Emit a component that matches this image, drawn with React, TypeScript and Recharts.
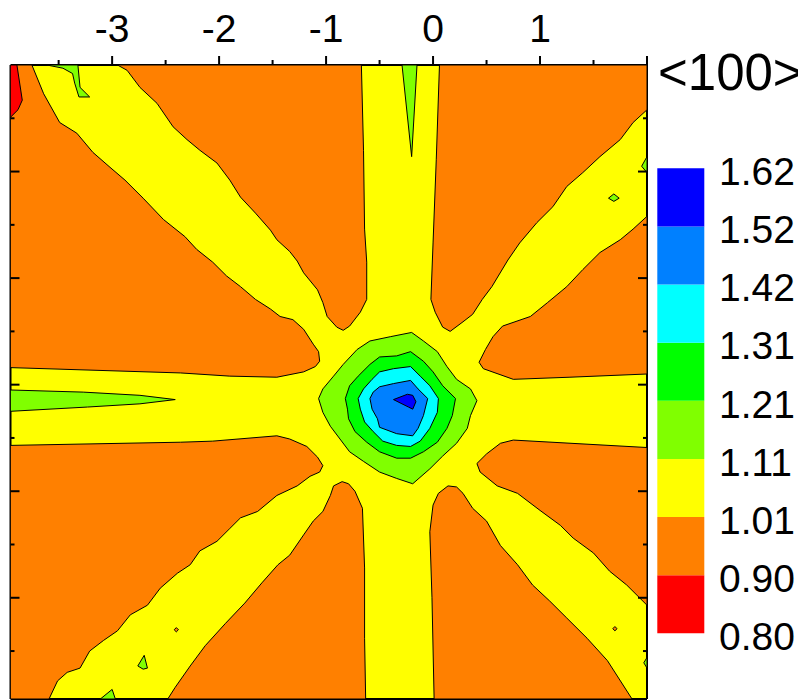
import { Bar, BarChart, CartesianGrid, Customized, Scatter, ScatterChart, XAxis, YAxis } from "recharts";

type Pt = [number, number];

// contour levels (bottom to top) and band colours
const levelLabels = ["0.80", "0.90", "1.01", "1.11", "1.21", "1.31", "1.42", "1.52", "1.62"];
const bandColors = ["#FF0000", "#FF8000", "#FFFF00", "#80FF00", "#00FF00", "#00FFFF", "#0080FF", "#0000FF"];
const colorbarTitle = "<100>";

const xTicks = [-3.5, -3, -2.5, -2, -1.5, -1, -0.5, 0, 0.5, 1, 1.5, 2];
const xLabelled = [-3, -2, -1, 0, 1];
const yTicks = [-3.5, -3, -2.5, -2, -1.5, -1, -0.5, 0, 0.5, 1, 1.5];
const domain: [number, number] = [-3.95, 2.0];

// orange (0.90-1.01) regions between the yellow arms
const orangeNW: Pt[] = [
  [-3.95, 2.0], [-3.75, 2.0], [-3.64, 1.73], [-3.49, 1.46], [-3.33, 1.36], [-3.18, 1.18], [-3.02, 1.04],
  [-2.88, 0.92], [-2.71, 0.75], [-2.52, 0.55], [-2.32, 0.39], [-2.21, 0.27], [-2.06, 0.15], [-1.93, 0.02],
  [-1.8, -0.08], [-1.66, -0.2], [-1.52, -0.29], [-1.43, -0.36], [-1.31, -0.39], [-1.21, -0.48], [-1.12, -0.62],
  [-1.07, -0.69], [-1.06, -0.78], [-1.1, -0.83], [-1.21, -0.88], [-1.46, -0.93], [-1.9, -0.92], [-2.36, -0.89],
  [-3.95, -0.84],
];
const orangeNNW: Pt[] = [
  [-2.95, 2.0], [-2.86, 1.95], [-2.74, 1.79], [-2.58, 1.64], [-2.43, 1.42], [-2.3, 1.3], [-2.18, 1.2],
  [-2.02, 1.08], [-1.9, 0.92], [-1.8, 0.76], [-1.66, 0.61], [-1.52, 0.45], [-1.46, 0.36], [-1.34, 0.25],
  [-1.27, 0.16], [-1.21, 0.05], [-1.08, -0.11], [-1.03, -0.23], [-0.99, -0.36], [-0.9, -0.46], [-0.84, -0.49],
  [-0.78, -0.45], [-0.68, -0.32], [-0.62, -0.2], [-0.62, 0.15], [-0.64, 0.46], [-0.65, 1.2], [-0.67, 2.0],
];
const orangeNNE: Pt[] = [
  [0.06, 2.0], [0.03, 1.11], [0.0, 0.33], [-0.02, -0.2], [0.02, -0.32], [0.09, -0.46], [0.16, -0.5],
  [0.28, -0.41], [0.37, -0.34], [0.46, -0.2], [0.55, -0.08], [0.7, 0.17], [0.81, 0.33], [0.97, 0.52],
  [1.12, 0.67], [1.25, 0.86], [1.4, 0.99], [1.56, 1.14], [1.75, 1.3], [1.87, 1.46], [2.0, 1.58], [2.0, 2.0],
];
const orangeENE: Pt[] = [
  [2.0, 0.58], [1.87, 0.46], [1.75, 0.36], [1.56, 0.24], [1.4, 0.08], [1.25, -0.08], [1.07, -0.23],
  [0.91, -0.36], [0.65, -0.45], [0.56, -0.55], [0.49, -0.67], [0.43, -0.79], [0.47, -0.85], [0.75, -0.95],
  [1.28, -0.93], [2.0, -0.9],
];
const orangeESE: Pt[] = [
  [2.0, -1.59], [0.75, -1.52], [0.63, -1.55], [0.5, -1.65], [0.41, -1.74], [0.44, -1.82], [0.6, -1.95],
  [0.79, -2.02], [1.0, -2.18], [1.19, -2.32], [1.31, -2.44], [1.5, -2.58], [1.65, -2.75], [1.81, -2.88],
  [2.0, -3.07],
];
const orangeSSE: Pt[] = [
  [1.86, -3.95], [1.63, -3.59], [1.44, -3.38], [1.25, -3.19], [1.09, -3.03], [0.93, -2.88], [0.79, -2.69],
  [0.63, -2.51], [0.5, -2.28], [0.37, -2.16], [0.28, -2.02], [0.22, -1.96], [0.14, -1.95], [0.05, -2.02],
  [0.0, -2.13], [-0.03, -2.38], [-0.01, -3.0], [0.01, -3.95],
];
const orangeSSW: Pt[] = [
  [-0.63, -3.95], [-0.64, -3.38], [-0.64, -2.72], [-0.66, -2.16], [-0.73, -2.0], [-0.79, -1.93], [-0.85, -1.91],
  [-0.93, -1.95], [-0.96, -2.04], [-1.03, -2.19], [-1.12, -2.28], [-1.21, -2.41], [-1.34, -2.6], [-1.45, -2.69],
  [-1.6, -2.86], [-1.76, -3.05], [-1.94, -3.24], [-2.13, -3.45], [-2.27, -3.64], [-2.41, -3.84], [-2.48, -3.95],
];
const orangeSW: Pt[] = [
  [-3.95, -1.57], [-3.95, -3.95], [-3.59, -3.95], [-3.51, -3.78], [-3.42, -3.7], [-3.3, -3.66], [-3.21, -3.5],
  [-3.08, -3.4], [-2.95, -3.31], [-2.83, -3.16], [-2.67, -3.07], [-2.55, -2.91], [-2.39, -2.77], [-2.27, -2.69],
  [-2.18, -2.56], [-2.02, -2.47], [-1.9, -2.35], [-1.8, -2.25], [-1.64, -2.19], [-1.46, -2.04], [-1.27, -1.95],
  [-1.15, -1.86], [-1.06, -1.82], [-1.03, -1.76], [-1.08, -1.68], [-1.18, -1.58], [-1.34, -1.51], [-1.46, -1.48],
  [-2.06, -1.53], [-2.36, -1.54],
];
const orangeDotA: Pt[] = [[1.68, -3.29], [1.7, -3.27], [1.72, -3.29], [1.7, -3.31]];
const orangeDotB: Pt[] = [[-2.42, -3.3], [-2.4, -3.28], [-2.38, -3.3], [-2.4, -3.32]];

// red (0.80-0.90) corner
const redCorner: Pt[] = [[-3.95, 2.0], [-3.89, 2.0], [-3.84, 1.67], [-3.88, 1.58], [-3.95, 1.51]];

// light green (1.11-1.21) spikes and islands
const spikeWest: Pt[] = [[-3.95, -1.05], [-3.27, -1.07], [-2.74, -1.1], [-2.41, -1.14], [-2.74, -1.18], [-3.23, -1.21], [-3.95, -1.25]];
const spikeNorth: Pt[] = [[-0.29, 2.0], [-0.15, 2.0], [-0.2, 1.14]];
const spikeNW: Pt[] = [[-3.61, 2.0], [-3.46, 1.97], [-3.37, 1.92], [-3.35, 1.83], [-3.31, 1.7], [-3.21, 1.7], [-3.3, 1.79], [-3.32, 2.0]];
const islandNE: Pt[] = [[1.64, 0.75], [1.69, 0.79], [1.74, 0.75], [1.69, 0.72]];
const islandEdgeNE: Pt[] = [[2.0, 1.14], [1.95, 1.05], [2.0, 0.99]];
const islandEdgeSE: Pt[] = [[2.0, -3.56], [1.97, -3.61], [2.0, -3.66]];
const islandSW1: Pt[] = [[-2.76, -3.64], [-2.7, -3.54], [-2.67, -3.66], [-2.71, -3.67]];
const islandSW2: Pt[] = [[-3.11, -3.95], [-3.0, -3.86], [-2.97, -3.95]];

// central peak, outer to inner
const peak111: Pt[] = [
  [-1.07, -1.13], [-1.03, -1.04], [-0.93, -0.92], [-0.84, -0.81], [-0.71, -0.67], [-0.59, -0.59], [-0.4, -0.55],
  [-0.2, -0.51], [-0.09, -0.59], [0.04, -0.69], [0.13, -0.83], [0.22, -0.95], [0.35, -1.04], [0.41, -1.15],
  [0.35, -1.29], [0.32, -1.41], [0.22, -1.55], [0.09, -1.67], [-0.03, -1.79], [-0.19, -1.93], [-0.34, -1.88],
  [-0.5, -1.82], [-0.65, -1.72], [-0.78, -1.63], [-0.87, -1.51], [-0.96, -1.39], [-1.03, -1.26],
];
const peak121: Pt[] = [
  [-0.82, -1.13], [-0.78, -1.01], [-0.7, -0.92], [-0.59, -0.81], [-0.5, -0.74], [-0.34, -0.73], [-0.21, -0.69],
  [-0.09, -0.78], [0.0, -0.88], [0.09, -1.01], [0.21, -1.13], [0.18, -1.29], [0.13, -1.41], [0.04, -1.54],
  [-0.09, -1.63], [-0.21, -1.69], [-0.34, -1.69], [-0.5, -1.63], [-0.62, -1.54], [-0.73, -1.44], [-0.79, -1.32],
  [-0.8, -1.23],
];
const peak131: Pt[] = [
  [-0.7, -1.13], [-0.65, -1.04], [-0.57, -0.95], [-0.5, -0.88], [-0.37, -0.85], [-0.21, -0.83], [-0.12, -0.92],
  [-0.03, -1.01], [0.05, -1.13], [0.04, -1.26], [-0.03, -1.41], [-0.12, -1.53], [-0.21, -1.58], [-0.34, -1.57],
  [-0.47, -1.53], [-0.56, -1.44], [-0.64, -1.35], [-0.68, -1.23],
];
const peak142: Pt[] = [
  [-0.59, -1.13], [-0.56, -1.07], [-0.5, -1.02], [-0.37, -0.99], [-0.21, -0.96], [-0.14, -1.04], [-0.05, -1.13],
  [-0.09, -1.29], [-0.14, -1.41], [-0.19, -1.48], [-0.34, -1.46], [-0.5, -1.4], [-0.52, -1.32], [-0.57, -1.23],
];
const peak152: Pt[] = [[-0.37, -1.14], [-0.24, -1.09], [-0.19, -1.1], [-0.16, -1.16], [-0.19, -1.23], [-0.23, -1.21]];

// drawing order: [polygon, band index into bandColors]
const layers: [Pt[], number][] = [
  [orangeNW, 1], [orangeNNW, 1], [orangeNNE, 1], [orangeENE, 1], [orangeESE, 1], [orangeSSE, 1],
  [orangeSSW, 1], [orangeSW, 1], [orangeDotA, 1], [orangeDotB, 1], [redCorner, 0],
  [spikeWest, 3], [spikeNorth, 3], [spikeNW, 3], [islandNE, 3], [islandEdgeNE, 3], [islandEdgeSE, 3],
  [islandSW1, 3], [islandSW2, 3],
  [peak111, 3], [peak121, 4], [peak131, 5], [peak142, 6], [peak152, 7],
];

const FONT = "Arial, 'Liberation Sans', sans-serif";

const polygon = (color: string) => (props: any) => {
  const pts = props.points || [];
  const d = pts.map((p: any, i: number) => `${i ? "L" : "M"}${p.x},${p.y}`).join(" ") + " Z";
  return <path d={d} fill={color} stroke="#000" strokeWidth={1} strokeLinejoin="round" />;
};

const noDot = () => <g />;

const TopTick = ({ x, y, payload }: any) => {
  const v = payload.value;
  const major = Number.isInteger(v);
  return (
    <g>
      <line x1={x} x2={x} y1={y} y2={y - (major ? 9 : 5)} stroke="#000" strokeWidth={2} />
      {xLabelled.includes(v) && (
        <text x={x} y={y - 23} textAnchor="middle" fontSize={39} fontFamily={FONT} fill="#000">
          {v}
        </text>
      )}
    </g>
  );
};

const BottomTick = ({ x, y, payload }: any) => (
  <line x1={x} x2={x} y1={y} y2={y - (Number.isInteger(payload.value) ? 8 : 4)} stroke="#000" strokeWidth={2} />
);

const LeftTick = ({ x, y, payload }: any) => (
  <line x1={x} x2={x + (Number.isInteger(payload.value) ? 9 : 4)} y1={y} y2={y} stroke="#000" strokeWidth={2} />
);

const RightTick = ({ x, y, payload }: any) => (
  <line x1={x} x2={x - (Number.isInteger(payload.value) ? 9 : 4)} y1={y} y2={y} stroke="#000" strokeWidth={2} />
);

const colorbarRow = [
  bandColors.reduce((row: any, _c, i) => ({ ...row, [`b${i}`]: 1 }), { k: "c" }),
];

const LevelTick = ({ x, y, payload }: any) => (
  <text x={x + 15} y={y + 16.7} textAnchor="start" fontSize={39} fontFamily={FONT} fill="#000">
    {levelLabels[payload.value]}
  </text>
);

export default function App() {
  return (
    <div style={{ position: "relative", width: 798, height: 692, fontFamily: FONT }}>
      <div style={{ position: "absolute", left: 0, top: 0 }}>
        <ScatterChart width={642} height={692} margin={{ top: 0, right: 1, bottom: 0, left: 0 }}>
          <CartesianGrid horizontal={false} vertical={false} fill={bandColors[2]} />
          <XAxis
            type="number"
            dataKey="x"
            orientation="top"
            domain={domain}
            allowDataOverflow
            ticks={xTicks}
            interval={0}
            height={57}
            tickSize={0}
            tickMargin={0}
            tickLine={false}
            tick={TopTick}
            axisLine={{ stroke: "#000", strokeWidth: 2 }}
          />
          <XAxis
            xAxisId="b"
            type="number"
            orientation="bottom"
            domain={domain}
            allowDataOverflow
            ticks={xTicks.slice(0, -1)}
            interval={0}
            height={1}
            tickSize={0}
            tickMargin={0}
            tickLine={false}
            tick={BottomTick}
            axisLine={{ stroke: "#000", strokeWidth: 2 }}
          />
          <YAxis
            type="number"
            dataKey="y"
            domain={domain}
            allowDataOverflow
            ticks={yTicks}
            interval={0}
            width={2.5}
            tickSize={0}
            tickMargin={0}
            tickLine={false}
            tick={LeftTick}
            axisLine={{ stroke: "#000", strokeWidth: 2 }}
          />
          <YAxis
            yAxisId="r"
            type="number"
            orientation="right"
            domain={domain}
            allowDataOverflow
            ticks={yTicks}
            interval={0}
            width={2}
            tickSize={0}
            tickMargin={0}
            tickLine={false}
            tick={RightTick}
            axisLine={{ stroke: "#000", strokeWidth: 2 }}
          />
          {layers.map(([pts, band], i) => (
            <Scatter
              key={i}
              data={pts.map(([x, y]) => ({ x, y }))}
              line={polygon(bandColors[band])}
              lineType="joint"
              shape={noDot}
              legendType="none"
              isAnimationActive={false}
            />
          ))}
        </ScatterChart>
      </div>
      <div style={{ position: "absolute", left: 641, top: 0 }}>
        <BarChart
          width={157}
          height={692}
          data={colorbarRow}
          barCategoryGap={0}
          margin={{ top: 160.3, right: 0, bottom: 66.7, left: 8.3 }}
        >
          <XAxis dataKey="k" hide />
          <YAxis
            orientation="right"
            type="number"
            domain={[0, 8]}
            ticks={levelLabels.map((_l, i) => i)}
            interval={0}
            width={102}
            tickSize={0}
            tickMargin={0}
            tickLine={false}
            axisLine={false}
            tick={LevelTick}
          />
          {bandColors.map((c, i) => (
            <Bar key={c} dataKey={`b${i}`} stackId="bar" fill={c} isAnimationActive={false} />
          ))}
          <Customized
            component={() => (
              <text x={9} y={82} fontSize={51} fontFamily={FONT} fill="#000">
                {colorbarTitle}
              </text>
            )}
          />
        </BarChart>
      </div>
    </div>
  );
}
